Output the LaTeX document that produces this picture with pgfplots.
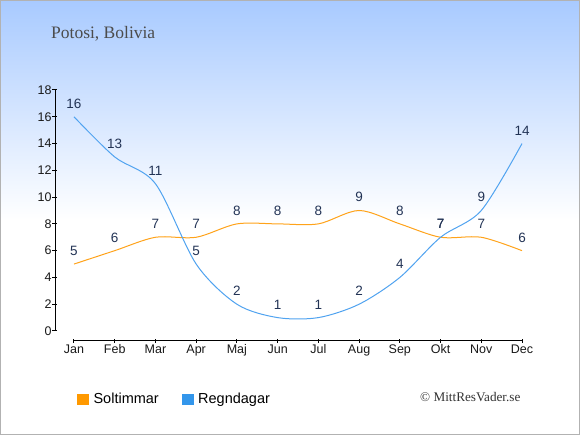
\documentclass[border=0pt]{standalone}
\usepackage{pgfplots}
\pgfplotsset{compat=1.18}
\usepackage{fontspec}
\setmainfont{Liberation Sans}
\newfontfamily\seriffont{Liberation Serif}
\definecolor{solc}{RGB}{255,163,26}
\definecolor{regc}{RGB}{80,163,240}
\definecolor{sqo}{RGB}{255,153,0}
\definecolor{sqb}{RGB}{51,150,235}
\definecolor{lblc}{RGB}{34,51,85}
\definecolor{bgtop}{RGB}{168,202,255}
\begin{document}
\begin{tikzpicture}[x=1pt,y=1pt]
\shade[top color=bgtop, bottom color=white] (0,215) rectangle (580,435);
\fill[white] (0,0) rectangle (580,215);
\draw[black!30, line width=1.2pt] (0.6,0.6) rectangle (579.4,434.4);
\node[anchor=base west, font=\seriffont\fontsize{17.5}{20}\selectfont, text=black!70, inner sep=0] at (51,396) {Potosi, Bolivia};
\node[anchor=base west, font=\seriffont\fontsize{13.2}{15}\selectfont, text=black!80, inner sep=0] at (420,33.3) {\textcopyright{} MittResVader.se};
\begin{axis}[
  at={(55pt,94pt)}, anchor=south west, scale only axis,
  width=467pt, height=251pt,
  xmin=-0.466, xmax=11, ymin=-0.747, ymax=18,
  clip=false, axis line style={draw=none}, major tick length=0pt,
  xtick={0,...,11},
  xticklabels={Jan,Feb,Mar,Apr,Maj,Jun,Jul,Aug,Sep,Okt,Nov,Dec},
  ytick={0,2,...,18},
  tick label style={font=\fontsize{12.5}{14}\selectfont, text=black!90},
  /pgf/number format/assume math mode=true,
  nodes near coords,
  every node near coord/.append style={anchor=base, yshift=8.5pt, text=lblc, font=\fontsize{13.5}{15}\selectfont},
  legend style={at={(axis description cs:0.047,-0.231)}, anchor=west, draw=none, fill=none,
    legend columns=2, font=\fontsize{14.5}{16}\selectfont, inner sep=0pt,
    /tikz/every odd column/.append style={column sep=3pt},
    /tikz/every even column/.append style={column sep=21pt}},
  legend image code/.code={\fill[#1] (0pt,-5pt) rectangle (11pt,5pt);},
]
\draw[black, line width=1pt] (axis cs:-0.466,0) -- (axis cs:-0.466,18);
\draw[black, line width=1pt] (axis cs:0,-0.747) -- (axis cs:11,-0.747);
\pgfplotsinvokeforeach{0,2,...,18}{\draw[black, line width=1pt] (axis cs:-0.466,#1) ++(-3pt,0pt) -- ++(5pt,0pt);}
\pgfplotsinvokeforeach{0,...,11}{\draw[black, line width=1pt] (axis cs:#1,-0.747) ++(0pt,-2pt) -- ++(0pt,4pt);}
\addplot[color=solc, line width=1pt, smooth, mark=none] coordinates {
 (0,5) (1,6) (2,7) (3,7) (4,8) (5,8) (6,8) (7,9) (8,8) (9,7) (10,7) (11,6)};
\addplot[color=regc, line width=1pt, smooth, mark=none] coordinates {
 (0,16) (1,13) (2,11) (3,5) (4,2) (5,1) (6,1) (7,2) (8,4) (9,7) (10,9) (11,14)};
\addlegendimage{color=sqo}
\addlegendimage{color=sqb}
\legend{,,Soltimmar,Regndagar}
\end{axis}
\end{tikzpicture}
\end{document}
